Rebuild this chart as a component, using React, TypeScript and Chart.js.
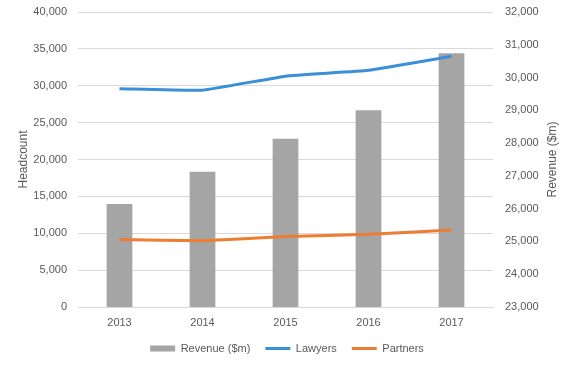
import React, { useEffect, useRef } from "react";
import { Chart, registerables } from "chart.js";

Chart.register(...registerables);

const years = ["2013", "2014", "2015", "2016", "2017"];
const revenue = [26140, 27130, 28130, 29000, 30740];
const lawyers = [29600, 29400, 31300, 32100, 34000];
const partners = [9150, 9000, 9550, 9850, 10450];

const headcountMin = 0;
const headcountMax = 40000;
const headcountStep = 5000;
const revenueMin = 23000;
const revenueMax = 32000;
const revenueStep = 1000;

const FONT = '"Liberation Sans", Arial, sans-serif';
const TEXT = "#595959";

const rightTitle = {
  id: "rightTitle",
  afterDraw(chart: any) {
    const s = chart.scales.y1;
    const ca = chart.chartArea;
    const ctx = chart.ctx;
    ctx.save();
    ctx.translate(s.right - 21, (ca.top + ca.bottom) / 2);
    ctx.rotate(-Math.PI / 2);
    ctx.font = `12px ${FONT}`;
    ctx.fillStyle = TEXT;
    ctx.textAlign = "center";
    ctx.textBaseline = "middle";
    ctx.fillText("Revenue ($m)", 0, 0);
    ctx.restore();
  },
};

export default function App() {
  const ref = useRef<HTMLCanvasElement>(null);
  useEffect(() => {
    if (!ref.current) return;
    const fmt = (v: any) => Number(v).toLocaleString("en-US");
    const chart = new Chart(ref.current, {
      type: "bar",
      data: {
        labels: years,
        datasets: [
          {
            type: "bar",
            label: "Revenue ($m)",
            data: revenue,
            yAxisID: "y1",
            backgroundColor: "#a5a5a5",
            barPercentage: 0.31,
            categoryPercentage: 1,
            order: 2,
          },
          {
            type: "line",
            label: "Lawyers",
            data: lawyers,
            yAxisID: "y",
            borderColor: "#3b8fd8",
            backgroundColor: "#3b8fd8",
            borderWidth: 3,
            pointRadius: 0,
            tension: 0.1,
            order: 0,
          },
          {
            type: "line",
            label: "Partners",
            data: partners,
            yAxisID: "y",
            borderColor: "#ed7d31",
            backgroundColor: "#ed7d31",
            borderWidth: 3,
            pointRadius: 0,
            tension: 0.1,
            order: 1,
          },
        ] as any,
      },
      options: {
        responsive: false,
        animation: false,
        layout: { padding: { top: 0, bottom: 3, left: 0, right: 0 } },
        plugins: {
          tooltip: { enabled: false },
          legend: {
            position: "bottom",
            labels: {
              usePointStyle: true,
              pointStyleWidth: 25,
              boxHeight: 6,
              padding: 15,
              color: TEXT,
              font: { family: FONT, size: 11 },
              sort: (a: any, b: any) => a.datasetIndex - b.datasetIndex,
              generateLabels: (chart: any) => {
                const items = Chart.defaults.plugins.legend.labels.generateLabels(chart);
                return items.map((it: any) => ({
                  ...it,
                  pointStyle: it.datasetIndex === 0 ? "rect" : "line",
                  lineWidth: it.datasetIndex === 0 ? 0 : 3,
                }));
              },
            },
          },
        },
        scales: {
          x: {
            grid: { display: false, drawTicks: false },
            border: { display: true, color: "#d9d9d9" },
            ticks: { color: TEXT, font: { family: FONT, size: 11 }, padding: 9 },
            afterFit: (s: any) => {
              s.height = 21;
            },
          },
          y: {
            position: "left",
            min: headcountMin,
            max: headcountMax,
            ticks: {
              stepSize: headcountStep,
              color: TEXT,
              font: { family: FONT, size: 11 },
              padding: 11,
              callback: fmt,
            },
            grid: { color: "#d9d9d9", drawTicks: false },
            border: { display: false },
            title: {
              display: true,
              text: "Headcount",
              color: TEXT,
              font: { family: FONT, size: 12 },
              padding: { top: 16, bottom: 0 },
            },
            afterFit: (s: any) => {
              s.width = 78;
              s.paddingTop = 12;
            },
          },
          y1: {
            position: "right",
            min: revenueMin,
            max: revenueMax,
            ticks: {
              stepSize: revenueStep,
              color: TEXT,
              font: { family: FONT, size: 11 },
              padding: 12,
              callback: fmt,
            },
            grid: { display: false, drawTicks: false },
            border: { display: false },
            afterFit: (s: any) => {
              s.width = 81;
              s.paddingTop = 12;
            },
          },
        },
      } as any,
      plugins: [rightTitle],
    });
    return () => chart.destroy();
  }, []);
  return (
    <div style={{ position: "absolute", left: 0, top: 0, width: 574, height: 367, background: "#fff" }}>
      <canvas ref={ref} width={574} height={367} />
    </div>
  );
}
